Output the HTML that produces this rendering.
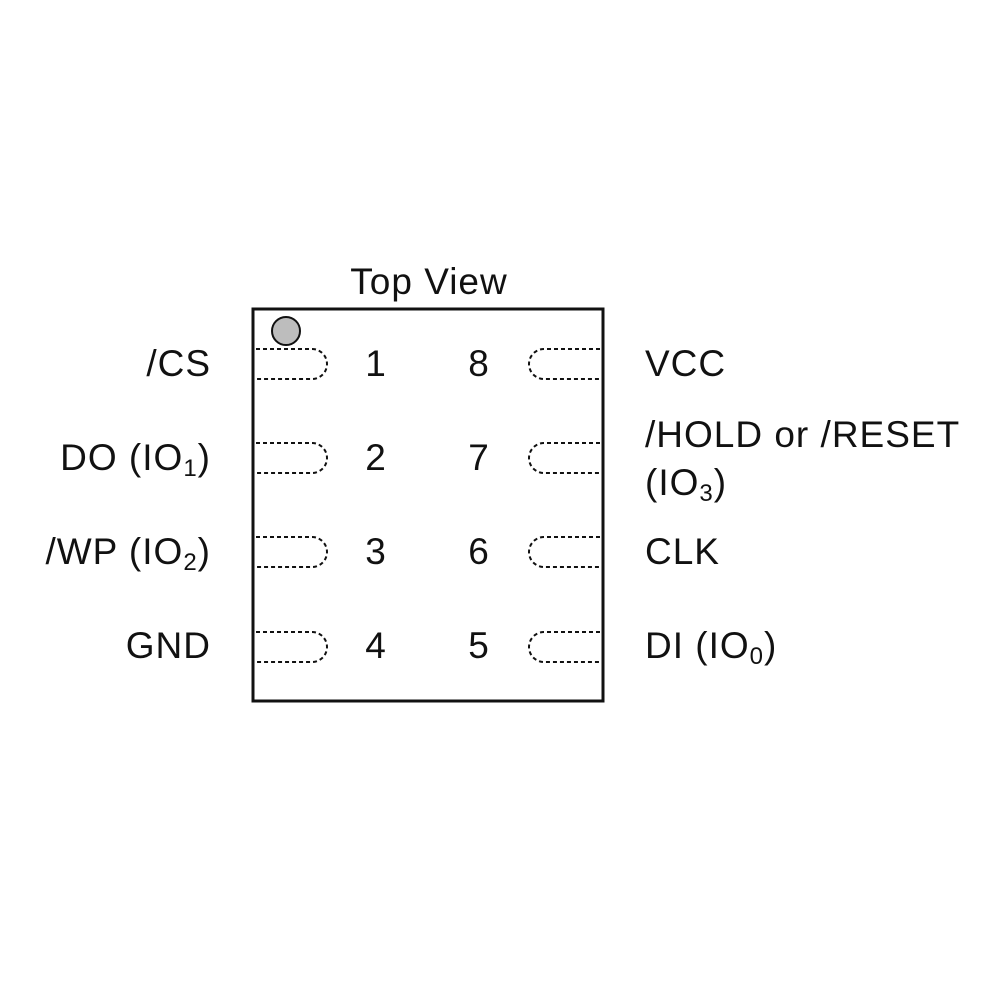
<!DOCTYPE html>
<html><head><style>
body{margin:0;background:#fff;}
svg text{font-family:"Liberation Sans",Arial,sans-serif;font-size:37px;letter-spacing:1px;fill:#111;}
</style></head><body>
<svg width="1000" height="1000" xmlns="http://www.w3.org/2000/svg">
<rect x="253" y="309" width="350" height="392" fill="none" stroke="#111" stroke-width="3"/>
<circle cx="286" cy="331" r="14" fill="#bdbdbd" stroke="#111" stroke-width="2"/>
<g fill="none" stroke="#111" stroke-width="2" stroke-dasharray="4,3">
<path d="M256 349 H312 A15 15 0 0 1 312 379 H256"/>
<path d="M256 443 H312 A15 15 0 0 1 312 473 H256"/>
<path d="M256 537 H312 A15 15 0 0 1 312 567 H256"/>
<path d="M256 632 H312 A15 15 0 0 1 312 662 H256"/>
<path d="M600 349 H544 A15 15 0 0 0 544 379 H600"/>
<path d="M600 443 H544 A15 15 0 0 0 544 473 H600"/>
<path d="M600 537 H544 A15 15 0 0 0 544 567 H600"/>
<path d="M600 632 H544 A15 15 0 0 0 544 662 H600"/>
</g>
<text x="429" y="294" text-anchor="middle">Top View</text>
<g text-anchor="middle">
<text x="376" y="376">1</text><text x="479" y="376">8</text>
<text x="376" y="470">2</text><text x="479" y="470">7</text>
<text x="376" y="564">3</text><text x="479" y="564">6</text>
<text x="376" y="658">4</text><text x="479" y="658">5</text>
</g>
<g text-anchor="end">
<text x="211" y="376">/CS</text>
<text x="211" y="470">DO (IO<tspan font-size="24" dy="6">1</tspan><tspan dy="-6">)</tspan></text>
<text x="211" y="564">/WP (IO<tspan font-size="24" dy="6">2</tspan><tspan dy="-6">)</tspan></text>
<text x="211" y="658">GND</text>
</g>
<text x="645" y="376">VCC</text>
<text x="645" y="447">/HOLD or /RESET</text>
<text x="645" y="495">(IO<tspan font-size="24" dy="6">3</tspan><tspan dy="-6">)</tspan></text>
<text x="645" y="564">CLK</text>
<text x="645" y="658">DI (IO<tspan font-size="24" dy="6">0</tspan><tspan dy="-6">)</tspan></text>
</svg>
</body></html>
